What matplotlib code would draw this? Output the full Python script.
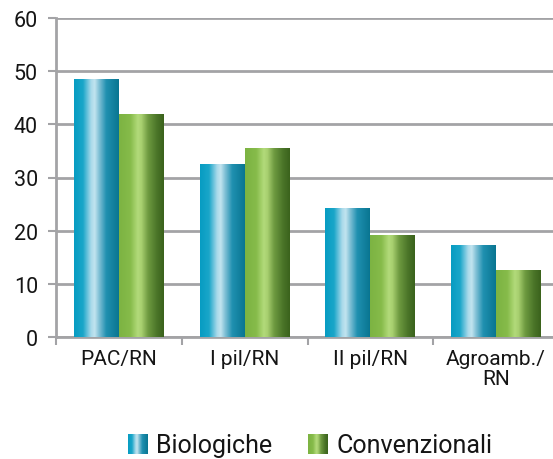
import numpy as np
import matplotlib
matplotlib.use("Agg")
import matplotlib.pyplot as plt
from matplotlib.colors import LinearSegmentedColormap

categories = ["PAC/RN", "I pil/RN", "II pil/RN", "Agroamb./\nRN"]
biologiche = [48.5, 32.5, 24.2, 17.3]
convenzionali = [41.9, 35.5, 19.1, 12.6]
series_names = ["Biologiche", "Convenzionali"]
yticks = [0, 10, 20, 30, 40, 50, 60]

plt.rcParams['font.family'] = ['Roboto', 'DejaVu Sans']

blue_cmap = LinearSegmentedColormap.from_list("blue", [
    (0.0, "#069cc2"), (0.2, "#1aa6c9"), (0.38, "#a9d9ea"), (0.46, "#c2e4ef"),
    (0.55, "#86c3d8"), (0.72, "#1f90b0"), (1.0, "#097591")])
green_cmap = LinearSegmentedColormap.from_list("green", [
    (0.0, "#7cb342"), (0.25, "#86bb4a"), (0.42, "#b2da7a"), (0.5, "#a8d070"),
    (0.65, "#6e9a40"), (0.85, "#4a7428"), (1.0, "#3a621c")])

fig = plt.figure(figsize=(5.53, 4.6), dpi=100)
ax = fig.add_axes([56/553, 1-338/460, 503/553, (338-19)/460])

grid_c = "#a3a3a6"
text_c = "#151515"
x = np.arange(len(categories))
w = 0.357
grad = np.linspace(0, 1, 256).reshape(1, -1)

for vals, cmap, off in [(biologiche, blue_cmap, -w/2), (convenzionali, green_cmap, w/2)]:
    bars = ax.bar(x + off, vals, width=w, color="none", edgecolor="none", zorder=3)
    for b in bars:
        bx, by = b.get_xy()
        bw, bh = b.get_width(), b.get_height()
        ax.imshow(grad, extent=[bx, bx+bw, by, by+bh], aspect="auto",
                  cmap=cmap, zorder=3, interpolation="bilinear")

ax.set_xlim(-0.5, 3.5)
ax.set_ylim(0, 60)
ax.set_yticks(yticks)
ax.set_yticklabels([str(t) for t in yticks])
ax.yaxis.grid(True, color=grid_c, linewidth=2.0, zorder=0)
ax.set_axisbelow(True)

ax.set_xticks(x)
ax.set_xticklabels(categories, fontsize=15, color=text_c, linespacing=1.05)
ax.set_xticks(np.arange(-0.5, 3.6, 1.0), minor=True)
ax.tick_params(axis="x", which="major", length=0, pad=9)
ax.tick_params(axis="x", which="minor", length=6, width=1.5, color=grid_c)
ax.tick_params(axis="y", length=6, width=1.5, color=grid_c, labelsize=15.5,
               labelcolor=text_c, pad=7)

for s in ["top", "right"]:
    ax.spines[s].set_visible(False)
for s in ["left", "bottom"]:
    ax.spines[s].set_color(grid_c)
    ax.spines[s].set_linewidth(2.0)

# legend
for (name, cmap, px) in [(series_names[0], blue_cmap, 128), (series_names[1], green_cmap, 308)]:
    lax = fig.add_axes([px/553, 1-455/460, 20/553, 20/460])
    lax.imshow(grad, aspect="auto", cmap=cmap, interpolation="bilinear")
    lax.axis("off")
    fig.text((px+28)/553, 1-446/460, name, fontsize=18, color=text_c, va="center", ha="left")

fig.savefig("out.png", dpi=100)
